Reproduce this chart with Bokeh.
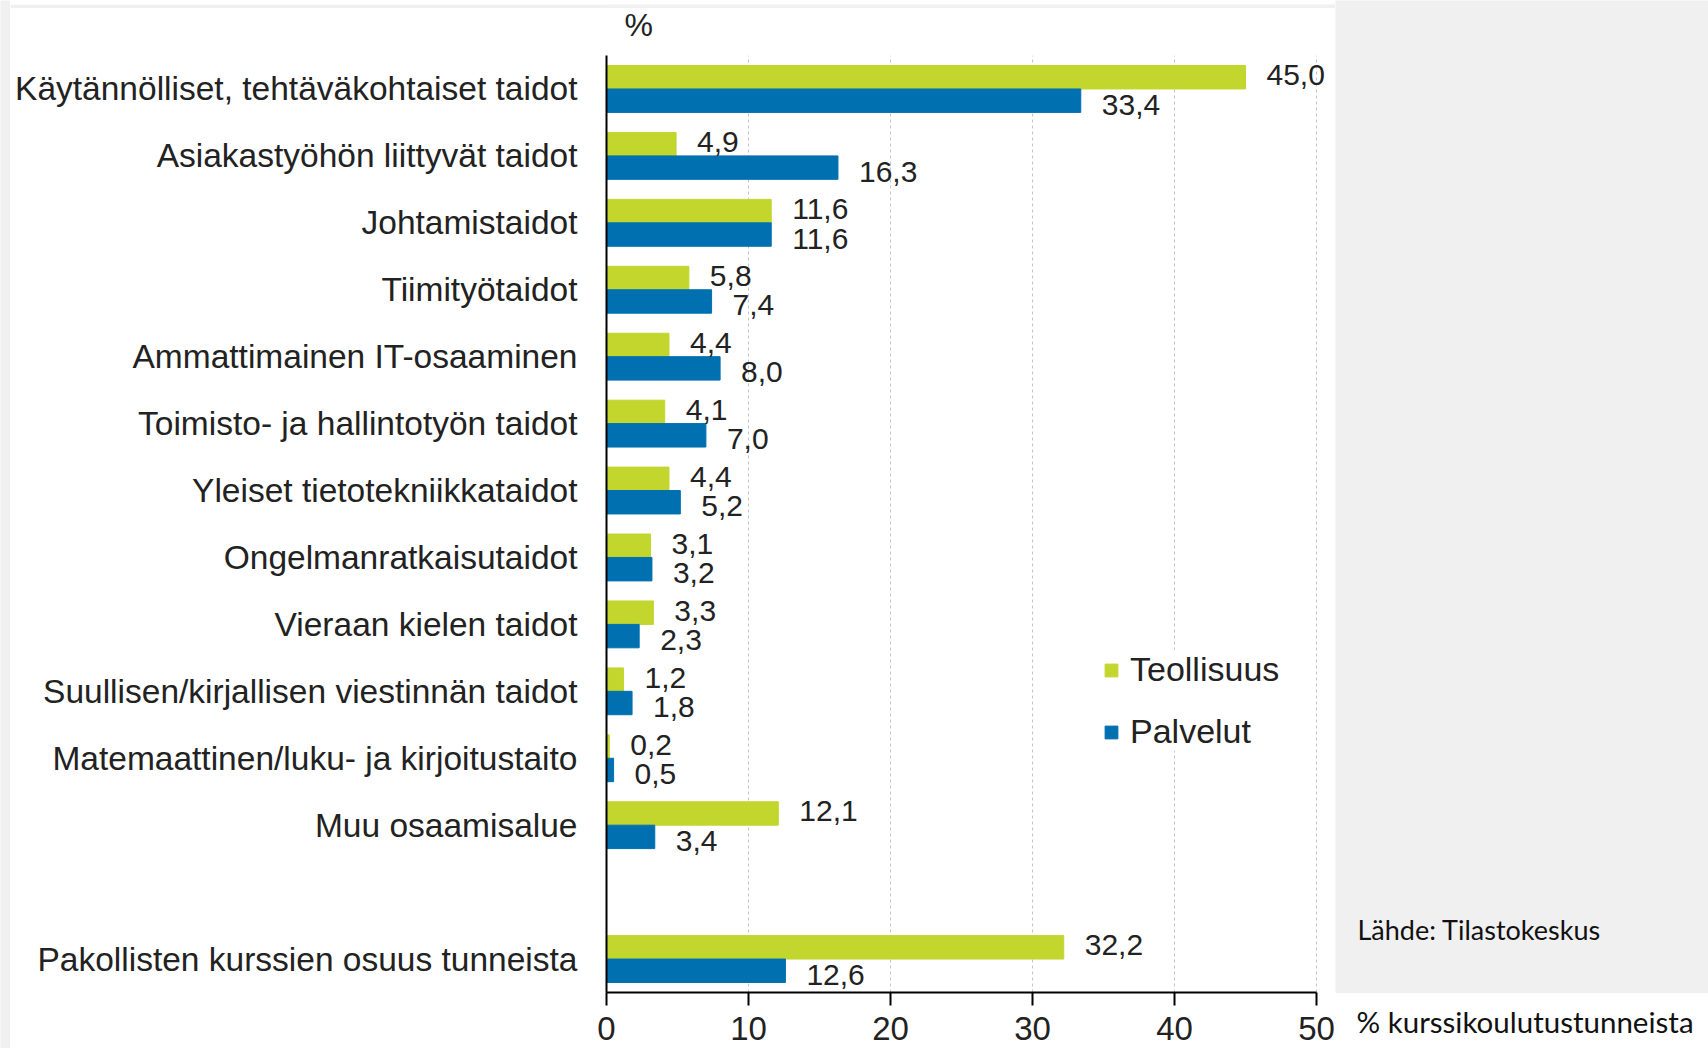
from bokeh.plotting import figure
from bokeh.layouts import row, column
from bokeh.models import (FactorRange, Range1d, Label, LabelSet,
                          ColumnDataSource, FixedTicker)
from bokeh.core.properties import value
from bokeh.transform import dodge
from bokeh.embed import file_html
from bokeh.resources import INLINE

# ---- data (top to bottom) ----
categories = [
    "Käytännölliset, tehtäväkohtaiset taidot",
    "Asiakastyöhön liittyvät taidot",
    "Johtamistaidot",
    "Tiimityötaidot",
    "Ammattimainen IT-osaaminen",
    "Toimisto- ja hallintotyön taidot",
    "Yleiset tietotekniikkataidot",
    "Ongelmanratkaisutaidot",
    "Vieraan kielen taidot",
    "Suullisen/kirjallisen viestinnän taidot",
    "Matemaattinen/luku- ja kirjoitustaito",
    "Muu osaamisalue",
    "Pakollisten kurssien osuus tunneista",
]
teollisuus = [45.0, 4.9, 11.6, 5.8, 4.4, 4.1, 4.4, 3.1, 3.3, 1.2, 0.2, 12.1, 32.2]
palvelut = [33.4, 16.3, 11.6, 7.4, 8.0, 7.0, 5.2, 3.2, 2.3, 1.8, 0.5, 3.4, 12.6]
x_ticks = [0, 10, 20, 30, 40, 50]
series_names = ["Teollisuus", "Palvelut"]
unit_label = "%"
source_label = "Lähde: Tilastokeskus"
x_title = "% kurssikoulutustunneista"

GREEN = "#c2d62e"
BLUE = "#0070b0"
GREY = "#f0f0f0"
TEXT = "#222222"
FONT = "Liberation Sans"

# ---- layout constants (px) ----
TOTAL_H = 1048
STRIP = 8               # grey band at the top
LEFT_STRIP = 10         # grey band at the left
BAND_H = 47             # white band holding the "%" sign
MAIN_W = 1325
MAIN_H = TOTAL_H - STRIP - BAND_H
FRAME_LEFT = 596
FRAME_BOTTOM_BORDER = 56
X50_PX = 710            # pixel width of 0..50
SIDE_W = 373
GREY_H = 993

factors = [categories[-1], " "] + list(reversed(categories[:-1]))

def fmt(v):
    return f"{v:.1f}".replace(".", ",")

src = ColumnDataSource(dict(
    cat=categories,
    teol=teollisuus,
    palv=palvelut,
    teol_lbl=[fmt(v) for v in teollisuus],
    palv_lbl=[fmt(v) for v in palvelut],
))

x_end = x_ticks[-1] * (MAIN_W - FRAME_LEFT) / X50_PX
x_range = Range1d(0, x_end)

p = figure(width=MAIN_W, height=MAIN_H,
           y_range=FactorRange(factors=factors, range_padding=0),
           x_range=x_range,
           output_backend="svg", toolbar_location=None,
           min_border_left=FRAME_LEFT, min_border_right=0,
           min_border_top=0, min_border_bottom=FRAME_BOTTOM_BORDER)
p.outline_line_color = None
p.background_fill_color = "white"
p.border_fill_color = "white"

p.hbar(y=dodge("cat", 0.175, range=p.y_range), left=0, right="teol", height=0.35,
       color=GREEN, source=src, legend_label=series_names[0])
p.hbar(y=dodge("cat", -0.175, range=p.y_range), left=0, right="palv", height=0.35,
       color=BLUE, source=src, legend_label=series_names[1])

for col, off, yo in (("teol", 0.175, 2), ("palv", -0.175, -4)):
    p.add_layout(LabelSet(x=col, y=dodge("cat", off, range=p.y_range), text=col + "_lbl",
                          source=src, x_offset=21, y_offset=yo,
                          text_baseline="middle", text_align="left",
                          text_font=value(FONT), text_font_size="30px",
                          text_color=TEXT))

# axes
p.xaxis.ticker = FixedTicker(ticks=x_ticks)
p.xaxis.bounds = (x_ticks[0], x_ticks[-1])
p.xaxis.axis_line_color = "black"
p.xaxis.axis_line_width = 2
p.xaxis.major_tick_line_color = "black"
p.xaxis.major_tick_line_width = 2
p.xaxis.major_tick_out = 13
p.xaxis.major_tick_in = 0
p.xaxis.minor_tick_line_color = None
p.xaxis.major_label_standoff = 11
p.xaxis.major_label_text_font = FONT
p.xaxis.major_label_text_font_size = "33px"
p.xaxis.major_label_text_color = TEXT

p.yaxis.axis_line_color = "black"
p.yaxis.axis_line_width = 2
p.yaxis.major_tick_line_color = None
p.yaxis.major_tick_out = 0
p.yaxis.major_tick_in = 0
p.yaxis.minor_tick_line_color = None
p.yaxis.major_label_standoff = 29
p.yaxis.major_label_text_font = FONT
p.yaxis.major_label_text_font_size = "33.5px"
p.yaxis.major_label_text_color = TEXT

p.ygrid.visible = False
p.xgrid.ticker = FixedTicker(ticks=x_ticks)
p.xgrid.grid_line_color = "#c4c4c4"
p.xgrid.grid_line_dash = "3 3"
p.xgrid.grid_line_width = 1

# legend
lg = p.legend[0]
lg.location = (497, 241)
lg.padding = 12
lg.margin = 0
lg.spacing = 23
lg.label_height = 36
lg.glyph_width = 16
lg.glyph_height = 16
lg.label_standoff = 11
lg.label_text_font = FONT
lg.label_text_font_size = "34px"
lg.label_text_color = TEXT
lg.border_line_color = None
lg.background_fill_color = "white"
lg.background_fill_alpha = 1


def blank(w, h, fill, xr=None):
    f = figure(width=w, height=h, x_range=xr if xr is not None else Range1d(0, w),
               y_range=Range1d(h, 0),
               x_axis_type=None, y_axis_type=None, output_backend="svg",
               toolbar_location=None, min_border=0)
    f.outline_line_color = None
    f.background_fill_color = fill
    f.border_fill_color = fill
    f.grid.visible = False
    return f

left_strip = blank(LEFT_STRIP, TOTAL_H, GREY)
top_strip = blank(MAIN_W, STRIP, GREY)

# white band above the plot; shares the value axis range so "%" sits at x = 0
band = blank(MAIN_W, BAND_H, "white", xr=x_range)
band.add_layout(Label(x=0, y=16, x_offset=18, text=unit_label,
                      text_font=FONT, text_font_size="32px", text_color=TEXT,
                      text_baseline="middle", text_align="left"))

grey_panel = blank(SIDE_W, GREY_H, GREY)
grey_panel.add_layout(Label(x=22, y=929, text=source_label, text_font="Lato",
                            text_font_size="27px", text_color="#111111",
                            text_baseline="middle", text_align="left"))

white_panel = blank(SIDE_W, TOTAL_H - GREY_H, "white")
white_panel.add_layout(Label(x=21, y=28, text=x_title, text_font="Lato",
                             text_font_size="29.5px", text_color="#111111",
                             text_baseline="middle", text_align="left"))

page = row(left_strip, column(top_strip, band, p, spacing=0),
           column(grey_panel, white_panel, spacing=0), spacing=0)

open("out.html", "w").write(file_html(page, INLINE))
